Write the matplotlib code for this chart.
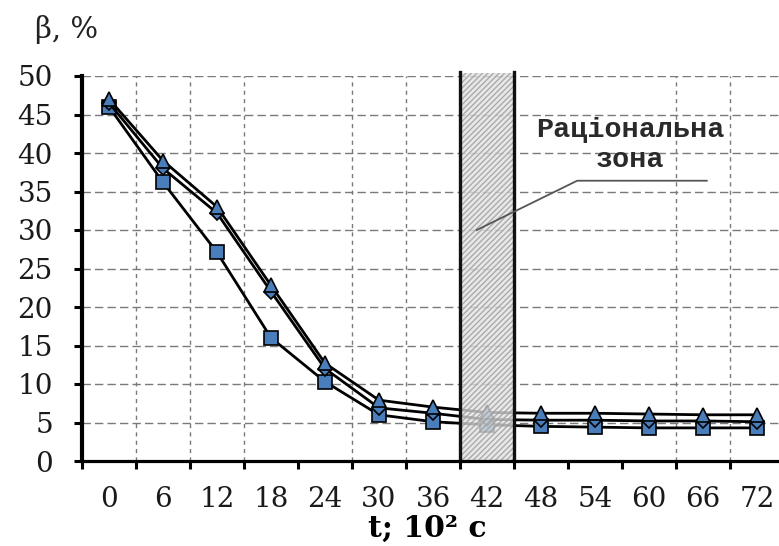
import matplotlib
matplotlib.use("Agg")
import matplotlib.pyplot as plt
import numpy as np

# Time categories, 10^2 s
t_labels = ["0", "6", "12", "18", "24", "30", "36", "42", "48", "54", "60", "66", "72"]

# Moisture content beta, % for three drying regimes
beta_tri = [47.0, 39.0, 33.0, 22.8, 12.7, 7.9, 7.0, 6.3, 6.2, 6.2, 6.1, 6.0, 6.0]
beta_dia = [46.5, 38.0, 32.2, 22.0, 12.0, 6.9, 6.2, 5.4, 5.3, 5.3, 5.2, 5.2, 5.1]
beta_sq = [46.0, 36.2, 27.1, 16.0, 10.3, 6.0, 5.1, 4.7, 4.5, 4.4, 4.3, 4.3, 4.3]

zone_title = "Раціональна"
zone_word = "зона"
zone_category = "42"

W, H = 779, 546
fig = plt.figure(figsize=(W / 100, H / 100), dpi=100)
left_px, right_px, top_px, bottom_px = 82, 784, 76, 461
ax = fig.add_axes([left_px / W, 1 - bottom_px / H,
                   (right_px - left_px) / W, (bottom_px - top_px) / H])

x = np.arange(len(t_labels))
ax.set_xlim(-0.5, len(t_labels) - 0.5)
ax.set_ylim(0, 50)

# grid
grid_kw = dict(color="#7a7a7a", lw=1.0, ls=(0, (6, 3)), zorder=0)
for yv in range(5, 51, 5):
    ax.axhline(yv, **grid_kw)
for b in [0.5, 1.5, 2.5, 4.5, 5.5, 10.5, 11.5]:
    ax.axvline(b, **{**grid_kw, "ls": (0, (3, 3))})

blue = "#4a7ebb"
line_kw = dict(color="black", lw=2.0, mfc=blue, mec="black", mew=1.2, zorder=3)
ax.plot(x, beta_sq, marker="s", ms=10, **line_kw)
ax.plot(x, beta_dia, marker="D", ms=7, **line_kw)
ax.plot(x, beta_tri, marker="^", ms=10.5, **line_kw)

# rational zone
zi = t_labels.index(zone_category)
ax.fill_between([zi - 0.5, zi + 0.5], 0, 50.4, facecolor="#e2e2e2", alpha=0.78,
                edgecolor="#9a9a9a", hatch="//////", lw=0, zorder=4, clip_on=False)
for xb in (zi - 0.5, zi + 0.5):
    ax.plot([xb, xb], [0, 50.5], color="#111111", lw=2.4, zorder=5, clip_on=False)

ax.plot([6.81, 8.67, 11.07], [30.0, 36.4, 36.4], color="#555555", lw=1.3, zorder=6)
txt_kw = dict(ha="center", va="center", fontsize=20.5, family="Liberation Mono",
              fontweight="bold", color="#2a2a2a", zorder=6)
ax.text(9.65, 43.0, zone_title, **txt_kw)
ax.text(9.65, 39.1, zone_word, **txt_kw)

# axes styling
for s in ("top", "right"):
    ax.spines[s].set_visible(False)
ax.spines["left"].set_linewidth(3.0)
ax.spines["bottom"].set_linewidth(2.3)
ax.spines["left"].set_zorder(7)
ax.spines["bottom"].set_zorder(7)

fs = 20
ax.set_yticks(range(0, 51, 5))
ax.set_yticklabels([str(v) for v in range(0, 51, 5)])
ax.tick_params(axis="y", length=6, width=2.2, pad=15, labelsize=fs)

ax.set_xticks(x)
ax.set_xticklabels(t_labels)
ax.set_xticks(np.arange(-0.5, len(t_labels)), minor=True)
ax.tick_params(axis="x", which="major", length=0, pad=18, labelsize=fs)
ax.tick_params(axis="x", which="minor", length=6, width=2.2)
for lab in ax.get_xticklabels() + ax.get_yticklabels():
    lab.set_family("DejaVu Serif")
    lab.set_color("#1a1a1a")

fig.text(35 / W, 1 - 30 / H, "β, %", ha="left", va="center",
         fontsize=21, family="DejaVu Serif", color="#222222")
fig.text(427 / W, 1 - 528 / H, "t; 10² c", ha="center", va="center",
         fontsize=21.5, family="DejaVu Serif", fontweight="bold")

fig.savefig("out.png", dpi=100)
